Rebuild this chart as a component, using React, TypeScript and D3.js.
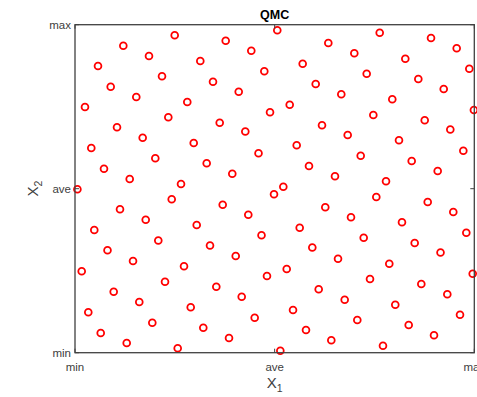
import { useEffect, useRef } from "react";
import * as d3 from "d3";

// QMC sample points, normalised to [0,1] (min..max)
const x1 = [
  0.2497, 0.121, 0.3774, 0.1853, 0.4415, 0.0576, 0.3138, 0.4741, 0.2179, 0.3456,
  0.0894, 0.41, 0.1535, 0.2812, 0.025, 0.4884, 0.2337, 0.3624, 0.1052, 0.4265,
  0.5066, 0.7631, 0.8916, 0.6344, 0.9559, 0.6995, 0.8272, 0.5702, 0.9875, 0.7305,
  0.8598, 0.6028, 0.9234, 0.6669, 0.7946, 0.5377, 0.999, 0.7471, 0.8758, 0.6186,
  0.9399, 0.1695, 0.2973, 0.0408, 0.4596, 0.2011, 0.3298, 0.0726, 0.3939, 0.137,
  0.2655, 0.006, 0.2422, 0.3699, 0.1127, 0.434, 0.1771, 0.3048, 0.0483, 0.4671,
  0.2086, 0.3381, 0.0814, 0.6829, 0.8114, 0.5552, 0.9725, 0.7155, 0.8432, 0.586,
  0.9083, 0.6511, 0.7789, 0.5217, 0.4984, 0.7546, 0.8833, 0.6268, 0.9474, 0.6912,
  0.8189, 0.5627, 0.98, 0.723, 0.8507, 0.5943, 0.9154, 0.4025, 0.1453, 0.273,
  0.0168, 0.4808, 0.2254, 0.3539, 0.0969, 0.4175, 0.161, 0.2898, 0.0333, 0.45,
  0.1936, 0.3213, 0.0644, 0.3857, 0.1295, 0.2572, 0.6587, 0.7871, 0.5302, 0.996,
  0.7388, 0.8673, 0.6103, 0.9324, 0.6754, 0.8021, 0.546, 0.9642, 0.707, 0.8357,
  0.5785, 0.8991, 0.6419, 0.7713, 0.5142,
];
const x2 = [
  0.9677, 0.936, 0.9512, 0.9046, 0.9207, 0.8741, 0.8893, 0.8582, 0.8427, 0.8262,
  0.811, 0.7957, 0.7796, 0.7643, 0.7491, 0.7329, 0.7177, 0.7012, 0.6875, 0.6744,
  0.9829, 0.9756, 0.9595, 0.9442, 0.928, 0.9128, 0.8963, 0.8811, 0.8659, 0.8506,
  0.8345, 0.8192, 0.804, 0.7878, 0.7726, 0.7561, 0.7399, 0.7247, 0.7085, 0.6936,
  0.6805, 0.6555, 0.6393, 0.6241, 0.6079, 0.5927, 0.5774, 0.561, 0.5457, 0.5296,
  0.5143, 0.4985, 0.4677, 0.4512, 0.4372, 0.4207, 0.4055, 0.3893, 0.3741, 0.3579,
  0.3421, 0.3268, 0.3122, 0.6637, 0.6476, 0.6323, 0.6159, 0.6006, 0.5845, 0.5692,
  0.554, 0.5378, 0.5226, 0.5061, 0.4829, 0.4747, 0.4595, 0.4433, 0.429, 0.4128,
  0.3976, 0.3811, 0.3659, 0.3506, 0.3345, 0.3207, 0.3055, 0.2948, 0.2796, 0.2634,
  0.2482, 0.2338, 0.2165, 0.2012, 0.186, 0.1707, 0.1546, 0.1384, 0.1232, 0.1067,
  0.0915, 0.0762, 0.0601, 0.0448, 0.0296, 0.0134, 0.2866, 0.2713, 0.2552, 0.2409,
  0.2247, 0.2095, 0.1933, 0.178, 0.1616, 0.1463, 0.1302, 0.1159, 0.0997, 0.0845,
  0.0692, 0.053, 0.0378, 0.0213, 0.0061,
];
const tickValues = [0, 0.5, 1];
const tickLabels = ["min", "ave", "max"];

const W = 477;
const H = 397;
const m = { left: 75, right: 2.7, top: 24.7, bottom: 44.3 };

export default function App() {
  const ref = useRef<SVGSVGElement>(null);

  useEffect(() => {
    if (!ref.current) return;
    const svg = d3.select(ref.current);
    svg.selectAll("*").remove();

    const font = "'Liberation Sans', Arial, sans-serif";
    const axisColor = "#404040";

    const x = d3.scaleLinear().domain([0, 1]).range([m.left, W - m.right]);
    const y = d3.scaleLinear().domain([0, 1]).range([H - m.bottom, m.top]);

    const g = svg.append("g");

    // points
    g.selectAll("circle")
      .data(x1.map((v, i) => [v, x2[i]]))
      .enter()
      .append("circle")
      .attr("cx", (d) => x(d[0]))
      .attr("cy", (d) => y(d[1]))
      .attr("r", 3.4)
      .attr("fill", "none")
      .attr("stroke", "#ff0000")
      .attr("stroke-width", 1.8);

    // box
    g.append("rect")
      .attr("x", x(0))
      .attr("y", y(1))
      .attr("width", x(1) - x(0))
      .attr("height", y(0) - y(1))
      .attr("fill", "none")
      .attr("stroke", axisColor)
      .attr("stroke-width", 1.3);

    // inner ticks on all sides
    const tl = 4;
    tickValues.forEach((t) => {
      g.append("line").attr("x1", x(t)).attr("x2", x(t)).attr("y1", y(0)).attr("y2", y(0) - tl)
        .attr("stroke", axisColor);
      g.append("line").attr("x1", x(t)).attr("x2", x(t)).attr("y1", y(1)).attr("y2", y(1) + tl)
        .attr("stroke", axisColor);
      g.append("line").attr("y1", y(t)).attr("y2", y(t)).attr("x1", x(0)).attr("x2", x(0) + tl)
        .attr("stroke", axisColor);
      g.append("line").attr("y1", y(t)).attr("y2", y(t)).attr("x1", x(1)).attr("x2", x(1) - tl)
        .attr("stroke", axisColor);
    });

    // tick labels
    tickValues.forEach((t, i) => {
      g.append("text")
        .attr("x", x(t))
        .attr("y", y(0) + 18)
        .attr("text-anchor", "middle")
        .attr("font-family", font)
        .attr("font-size", 11.5)
        .attr("fill", axisColor)
        .text(tickLabels[i]);
      g.append("text")
        .attr("x", x(0) - 4)
        .attr("y", y(t) + 4)
        .attr("text-anchor", "end")
        .attr("font-family", font)
        .attr("font-size", 11.5)
        .attr("fill", axisColor)
        .text(tickLabels[i]);
    });

    // title
    g.append("text")
      .attr("x", (x(0) + x(1)) / 2)
      .attr("y", 19)
      .attr("text-anchor", "middle")
      .attr("font-family", font)
      .attr("font-size", 12.5)
      .attr("font-weight", "bold")
      .attr("fill", "#000")
      .text("QMC");

    // x label
    const xl = g.append("text")
      .attr("x", (x(0) + x(1)) / 2)
      .attr("y", 388)
      .attr("text-anchor", "middle")
      .attr("font-family", font)
      .attr("font-size", 15)
      .attr("fill", axisColor);
    xl.append("tspan").text("X");
    xl.append("tspan").attr("font-size", 10.5).attr("dy", 4).text("1");

    // y label
    const yl = g.append("text")
      .attr("transform", `translate(38,${(y(0) + y(1)) / 2}) rotate(-90)`)
      .attr("text-anchor", "middle")
      .attr("font-family", font)
      .attr("font-size", 15)
      .attr("fill", axisColor);
    yl.append("tspan").text("X");
    yl.append("tspan").attr("font-size", 10.5).attr("dy", 4).text("2");
  }, []);

  return (
    <svg
      ref={ref}
      width={W}
      height={H}
      style={{ position: "absolute", left: 0, top: 0, background: "#fff" }}
    />
  );
}
